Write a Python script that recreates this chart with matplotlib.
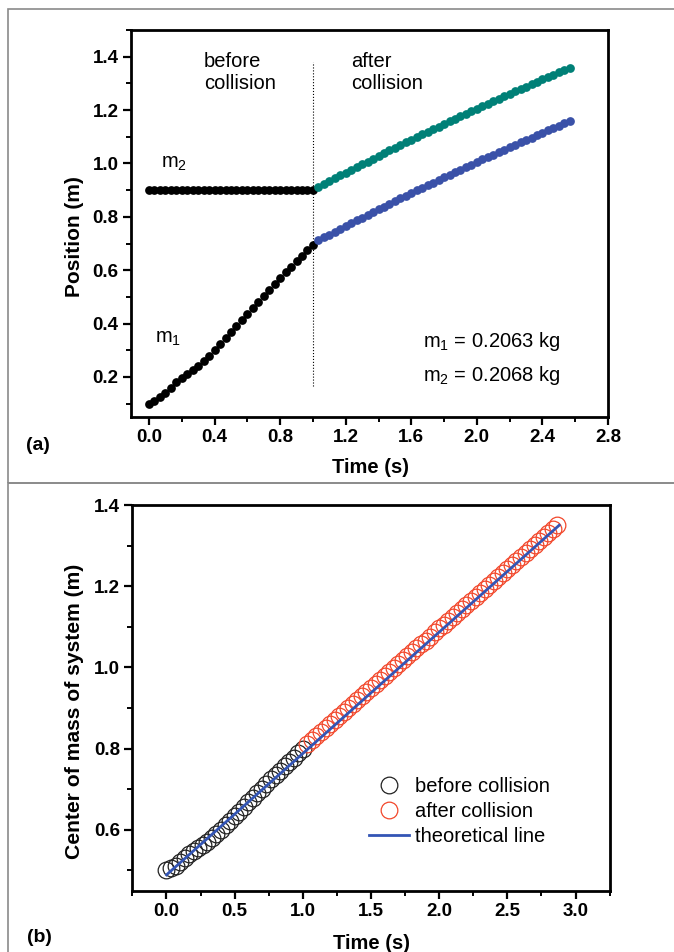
import numpy as np
import matplotlib
matplotlib.use("Agg")
import matplotlib.pyplot as plt
from matplotlib.patches import Rectangle
from matplotlib.ticker import MultipleLocator

plt.rcParams['font.family'] = ['Liberation Sans', 'DejaVu Sans']
plt.rcParams['mathtext.fontset'] = 'custom'
plt.rcParams['mathtext.rm'] = 'Liberation Sans'

# video tracking, 30 frames per second
frame_rate = 30.0
t_collision = 1.0

# (a) cart positions (m)
m1_before = [0.100, 0.110, 0.125, 0.140, 0.160, 0.180, 0.195, 0.210, 0.225, 0.242,
             0.260, 0.280, 0.300, 0.322, 0.345, 0.368, 0.390, 0.412, 0.435, 0.458,
             0.480, 0.502, 0.525, 0.548, 0.570, 0.592, 0.612, 0.633, 0.655, 0.675,
             0.695]
m2_before = [0.900] * 31
m1_after = [0.712, 0.723, 0.733, 0.744, 0.755, 0.765, 0.776, 0.787, 0.797, 0.807,
            0.818, 0.828, 0.838, 0.849, 0.859, 0.869, 0.879, 0.889, 0.899, 0.909,
            0.919, 0.928, 0.938, 0.948, 0.958, 0.967, 0.977, 0.986, 0.996, 1.005,
            1.015, 1.024, 1.033, 1.043, 1.052, 1.061, 1.070, 1.079, 1.088, 1.097,
            1.106, 1.115, 1.124, 1.132, 1.141, 1.150, 1.158]
m2_after = [0.912, 0.923, 0.934, 0.944, 0.955, 0.966, 0.976, 0.987, 0.997, 1.007,
            1.018, 1.028, 1.038, 1.049, 1.059, 1.069, 1.079, 1.089, 1.099, 1.109,
            1.119, 1.129, 1.138, 1.148, 1.158, 1.167, 1.177, 1.186, 1.196, 1.205,
            1.215, 1.224, 1.233, 1.243, 1.252, 1.261, 1.270, 1.279, 1.288, 1.297,
            1.306, 1.315, 1.324, 1.332, 1.341, 1.350, 1.358]

# (b) centre of mass of the two carts (m)
cm_before = [0.500, 0.505, 0.512, 0.520, 0.530, 0.540, 0.548, 0.555, 0.562, 0.571,
             0.580, 0.590, 0.600, 0.611, 0.622, 0.634, 0.645, 0.656, 0.668, 0.679,
             0.690, 0.701, 0.712, 0.724, 0.735, 0.746, 0.756, 0.767, 0.778, 0.788,
             0.798]
cm_after = [0.812, 0.822, 0.832, 0.841, 0.851, 0.861, 0.871, 0.880, 0.890, 0.900,
            0.910, 0.920, 0.929, 0.939, 0.949, 0.959, 0.968, 0.978, 0.988, 0.998,
            1.008, 1.017, 1.027, 1.037, 1.047, 1.057, 1.066, 1.076, 1.086, 1.096,
            1.105, 1.115, 1.125, 1.135, 1.145, 1.154, 1.164, 1.174, 1.184, 1.193,
            1.203, 1.213, 1.223, 1.233, 1.242, 1.252, 1.262, 1.272, 1.282, 1.291,
            1.301, 1.311, 1.321, 1.330, 1.340, 1.350]
theory_t = [0.0, 2.88]
theory_cm = [0.489, 1.350]

divider_y = [0.165, 1.38]


def times(n, start):
    return start + np.arange(n) / frame_rate


fig = plt.figure(figsize=(6.74, 9.52), dpi=100)

# grey frame round each panel
frame_kw = dict(transform=fig.transFigure, fill=False, edgecolor='#8a8a8a',
                linewidth=1.2, clip_on=False)
fig.add_artist(Rectangle((8/674, 1-483/952), 1.0, 474/952, **frame_kw))
fig.add_artist(Rectangle((8/674, -0.05), 1.0, 1-483/952+0.05, **frame_kw))

ax1 = fig.add_axes([131/674, 1-417/952, 477/674, 387/952])
ax2 = fig.add_axes([132.4/674, 1-890.7/952, 477.2/674, 385.7/952])

for ax in (ax1, ax2):
    for sp in ax.spines.values():
        sp.set_linewidth(2.0)
    ax.tick_params(which='major', direction='out', length=6, width=1.6,
                   labelsize=13.5, pad=3, top=False, right=False)
    ax.tick_params(which='minor', direction='out', length=3.5, width=1.4,
                   top=False, right=False)

# ---- (a) positions
dot = dict(linestyle='none', marker='o', markersize=6.3, markeredgewidth=0)
ax1.plot(times(len(m2_before), 0.0), m2_before, color='black', **dot)
ax1.plot(times(len(m1_before), 0.0), m1_before, color='black', **dot)
ax1.plot(times(len(m2_after), t_collision + 1/frame_rate), m2_after, color='#008077', **dot)
ax1.plot(times(len(m1_after), t_collision + 1/frame_rate), m1_after, color='#3a51a8', **dot)
ax1.plot([t_collision, t_collision], divider_y, color='black', linestyle=':', linewidth=0.8)

ax1.set_xlim(-0.11, 2.8)
ax1.set_ylim(0.05, 1.5)
ax1.xaxis.set_minor_locator(MultipleLocator(0.2))
ax1.yaxis.set_minor_locator(MultipleLocator(0.1))
ax1.set_yticks([0.2, 0.4, 0.6, 0.8, 1.0, 1.2, 1.4])
ax1.set_yticklabels(['0.2', '0.4', '0.6', '0.8', '1.0', '1.2', '1.4'], fontweight='bold')
ax1.set_xticks([0.0, 0.4, 0.8, 1.2, 1.6, 2.0, 2.4, 2.8])
ax1.set_xticklabels(['0.0', '0.4', '0.8', '1.2', '1.6', '2.0', '2.4', '2.8'], fontweight='bold')

ax1.set_xlabel('Time (s)', fontsize=14.5, fontweight='bold')
ax1.set_ylabel('Position (m)', fontsize=15, fontweight='bold')
ax1.xaxis.set_label_coords(0.503, -0.106)
ax1.yaxis.set_label_coords(-0.098, 0.465)

txt = dict(fontsize=14.5, va='center', ha='left', linespacing=1.25)
ax1.text(0.334, 1.341, 'before\ncollision', **txt)
ax1.text(1.235, 1.341, 'after\ncollision', **txt)
ax1.text(0.073, 1.0, r'm$_\mathregular{2}$', **txt)
ax1.text(0.034, 0.343, r'm$_\mathregular{1}$', **txt)
ax1.text(1.67, 0.333, r'm$_\mathregular{1}$ = 0.2063 kg', **txt)
ax1.text(1.67, 0.206, r'm$_\mathregular{2}$ = 0.2068 kg', **txt)

# ---- (b) centre of mass
ring = dict(linestyle='none', marker='o', markersize=12, markerfacecolor='none',
            markeredgewidth=0.9)
ax2.plot(times(len(cm_before), 0.0), cm_before, color='#222222',
         label='before collision', **ring)
ax2.plot(times(len(cm_after), t_collision + 1/frame_rate), cm_after, color='#f2472b',
         label='after collision', **ring)
ax2.plot(theory_t, theory_cm, color='#3355b5', linewidth=2.0, label='theoretical line')

ax2.set_xlim(-0.25, 3.25)
ax2.set_ylim(0.45, 1.4)
ax2.set_xticks([0.0, 0.5, 1.0, 1.5, 2.0, 2.5, 3.0])
ax2.set_xticklabels(['0.0', '0.5', '1.0', '1.5', '2.0', '2.5', '3.0'], fontweight='bold')
ax2.xaxis.set_minor_locator(MultipleLocator(0.25))
ax2.set_yticks([0.6, 0.8, 1.0, 1.2, 1.4])
ax2.set_yticklabels(['0.6', '0.8', '1.0', '1.2', '1.4'], fontweight='bold')
ax2.yaxis.set_minor_locator(MultipleLocator(0.1))

ax2.set_xlabel('Time (s)', fontsize=14.5, fontweight='bold')
ax2.set_ylabel('Center of mass of system (m)', fontsize=15.2, fontweight='bold')
ax2.xaxis.set_label_coords(0.502, -0.112)
ax2.yaxis.set_label_coords(-0.101, 0.464)

ax2.legend(loc='lower left', bbox_to_anchor=(0.495, 0.115), frameon=False,
           fontsize=14.5, handlelength=2.0, handletextpad=0.3, labelspacing=0.3,
           borderpad=0, borderaxespad=0)

fig.text(26/674, 1-445/952, '(a)', fontsize=14, fontweight='bold', va='center')
fig.text(27/674, 1-937/952, '(b)', fontsize=14, fontweight='bold', va='center')

fig.savefig('out.png', dpi=100)
